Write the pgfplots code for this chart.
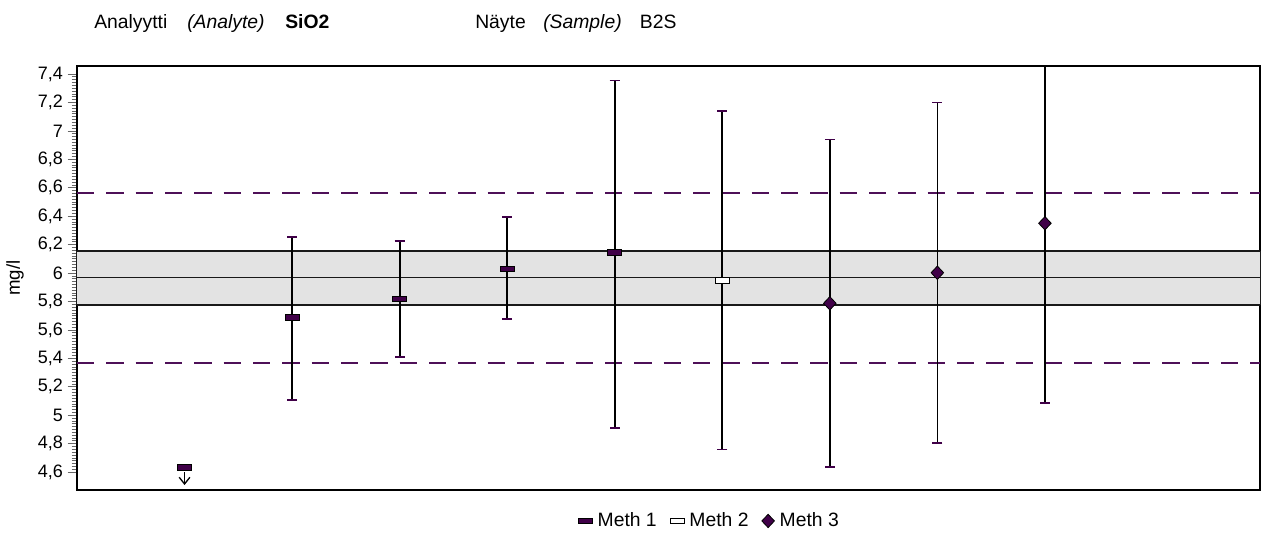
\documentclass[border=0pt]{standalone}
\usepackage{pgfplots}
\pgfplotsset{compat=1.18}
\usepackage{pgfplotstable}
\usepackage{fontspec}
\setmainfont{Liberation Sans}
\usetikzlibrary{arrows.meta}
\definecolor{mpurple}{RGB}{64,0,72}
\definecolor{dpurple}{RGB}{78,16,88}
\definecolor{bandgray}{RGB}{227,227,227}

\pgfdeclareplotmark{mrect}{\pgfpathrectangle{\pgfqpoint{-5.25pt}{-2.1pt}}{\pgfqpoint{10.5pt}{4.2pt}}\pgfusepathqfillstroke}
\pgfdeclareplotmark{mdiam}{\pgfpathmoveto{\pgfqpoint{0pt}{5pt}}\pgfpathlineto{\pgfqpoint{4.7pt}{0pt}}\pgfpathlineto{\pgfqpoint{0pt}{-5pt}}\pgfpathlineto{\pgfqpoint{-4.7pt}{0pt}}\pgfpathclose\pgfusepathqfillstroke}

\pgfplotstableread{
x y ep em
2 5.689 0.566 0.580
3 5.817 0.408 0.408
4 6.028 0.366 0.351
5 6.143 1.210 1.231
}\methone
\pgfplotstableread{
x y ep em
6 5.946 1.193 1.186
}\methtwo
\pgfplotstableread{
x y ep em
7 5.787 1.153 1.153
8 6.002 1.197 1.197
9 6.350 1.266 1.266
}\meththree

\begin{document}
\begin{tikzpicture}
\path[use as bounding box] (-57.75pt,-36.75pt) rectangle (891.75pt,367.5pt);
\begin{axis}[
  at={(0,0)}, anchor=south west,
  scale only axis, width=887.25pt, height=318pt,
  xmin=0, xmax=11, ymin=4.474, ymax=7.456,
  xtick=\empty, ytick pos=left,
  ytick={4.6,4.8,5,5.2,5.4,5.6,5.8,6,6.2,6.4,6.6,6.8,7,7.2,7.4},
  minor y tick num=9,
  tick align=outside,
  major tick length=7pt, minor tick length=4pt,
  every tick/.style={black!60, line width=0.5pt},
  yticklabel style={font=\fontsize{13.5}{15}\selectfont, xshift=0pt},
  /pgf/number format/.cd, use comma, fixed, assume math mode=true,
  /pgfplots/.cd,
  axis line style={black, line width=1.4pt},
  legend style={at={(0.535,-0.073)}, anchor=center, draw=none, fill=none,
    legend columns=3, font=\fontsize{14.5}{16}\selectfont,
    /tikz/every odd column/.append style={column sep=2pt},
    /tikz/every even column/.append style={column sep=8pt}},
  legend cell align=left,
]
% band
\addplot[fill=bandgray, draw=none, forget plot] coordinates {(0,5.775) (11,5.775) (11,6.155) (0,6.155) (0,5.775)};
\addplot[black!90, line width=1.3pt, forget plot] coordinates {(0,5.775) (11,5.775)};
\addplot[black!90, line width=1.3pt, forget plot] coordinates {(0,6.155) (11,6.155)};
\addplot[black!90, line width=1.3pt, forget plot] coordinates {(0,5.968) (11,5.968)};
\addplot[dpurple, line width=1.5pt, dash pattern=on 13pt off 9pt, forget plot] coordinates {(0,6.565) (11,6.565)};
\addplot[dpurple, line width=1.5pt, dash pattern=on 13pt off 9pt, forget plot] coordinates {(0,5.365) (11,5.365)};
% point 1 (less than)
\addplot[black, line width=1pt, -{Straight Barb[length=5pt,width=8pt]}, forget plot] coordinates {(1,4.60) (1,4.509)};
\addplot[only marks, mark=mrect, mark options={fill=mpurple, draw=black, line width=0.6pt}, forget plot] coordinates {(1,4.634)};
% Meth 1
\addplot[only marks, mark=mrect, mark options={fill=mpurple, draw=black, line width=0.6pt},
  error bars/.cd, y dir=both, y explicit,
  error bar style={black, line width=1.3pt},
  error mark=-, error mark options={rotate=90, mpurple, line width=1.2pt, mark size=3.75pt}]
  table[x=x, y=y, y error plus=ep, y error minus=em] {\methone};
\addlegendentry{Meth 1}
% Meth 2
\addplot[only marks, mark=mrect, mark options={fill=white, draw=black, line width=0.8pt},
  error bars/.cd, y dir=both, y explicit,
  error bar style={black, line width=1.3pt},
  error mark=-, error mark options={rotate=90, mpurple, line width=1.2pt, mark size=3.75pt}]
  table[x=x, y=y, y error plus=ep, y error minus=em] {\methtwo};
\addlegendentry{Meth 2}
% Meth 3
\addplot[only marks, mark=mdiam, mark options={fill=mpurple, draw=black, line width=0.6pt},
  error bars/.cd, y dir=both, y explicit,
  error bar style={black, line width=1.3pt},
  error mark=-, error mark options={rotate=90, mpurple, line width=1.2pt, mark size=3.75pt}]
  table[x=x, y=y, y error plus=ep, y error minus=em] {\meththree};
\addlegendentry{Meth 3}
\end{axis}
\node[rotate=90, font=\fontsize{14}{16}\selectfont] at (-46.5pt,159pt) {mg/l};
\begin{scope}[every node/.style={anchor=base west, inner sep=0pt, font=\fontsize{14.5}{16}\selectfont}]
\node at (12.75pt,346pt) {Analyytti};
\node at (82.5pt,346pt) {\itshape (Analyte)};
\node at (156pt,346pt) {\bfseries SiO2};
\node at (298.5pt,346pt) {Näyte};
\node at (349.5pt,346pt) {\itshape (Sample)};
\node at (422pt,346pt) {B2S};
\end{scope}
\end{tikzpicture}
\end{document}
